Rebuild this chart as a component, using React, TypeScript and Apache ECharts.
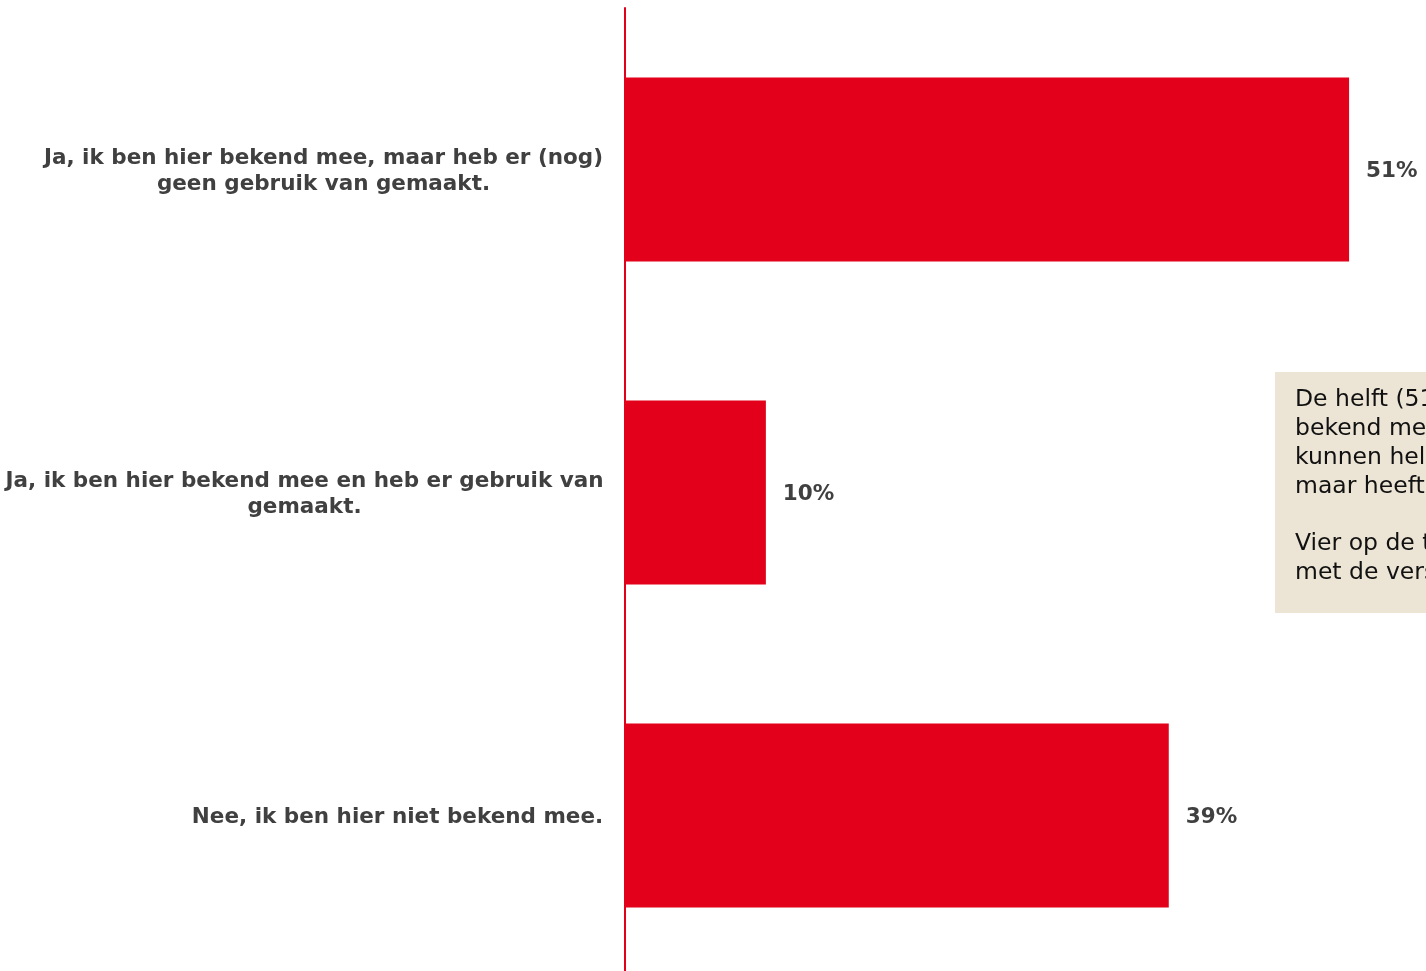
import React, { useEffect, useRef } from "react";
import * as echarts from "echarts";

const categories: string[] = [
  "Ja, ik ben hier bekend mee, maar heb er (nog)\ngeen gebruik van gemaakt.",
  "Ja, ik ben hier bekend mee en heb er gebruik van\ngemaakt.",
  "Nee, ik ben hier niet bekend mee.",
];
const values: number[] = [51.4, 10.0, 38.6];
const noteLines: string[] = [
  "De helft (51%) is hier",
  "bekend mee en weet dat zij",
  "kunnen helpen bij vragen,",
  "maar heeft er (nog) geen gebruik van gemaakt.",
  "",
  "Vier op de tien is niet bekend",
  "met de verschillende mogelijkheden.",
];

const RED = "#E2001A";
const TEXT = "#404040";
const FONT = "DejaVu Sans";
const LABEL_SIZE = 21.5;

export default function App() {
  const ref = useRef<HTMLDivElement>(null);
  useEffect(() => {
    if (!ref.current) return;
    const canvas = document.createElement("canvas");
    const ctx = canvas.getContext("2d")!;
    ctx.font = `bold ${LABEL_SIZE}px "${FONT}"`;
    const rich: Record<string, any> = {};
    categories.forEach((c, i) => {
      const w = Math.max(...c.split("\n").map((l) => ctx.measureText(l).width));
      rich["c" + i] = {
        width: Math.ceil(w) + 1,
        align: "center",
        fontFamily: FONT,
        fontWeight: "bold",
        fontSize: LABEL_SIZE,
        color: TEXT,
        lineHeight: 26,
      };
    });
    const chart = echarts.init(ref.current, null, { renderer: "svg" });
    chart.setOption({
      animation: false,
      grid: { left: 625, top: 8, bottom: 0, right: 0 },
      xAxis: {
        type: "value",
        min: 0,
        max: 56.86,
        show: false,
        splitLine: { show: false },
      },
      yAxis: {
        type: "category",
        data: categories,
        inverse: true,
        axisLine: { show: true, lineStyle: { color: RED, width: 2 } },
        axisTick: { show: false },
        axisLabel: {
          margin: 21,
          formatter: (v: string) => {
            const i = categories.indexOf(v);
            return v
              .split("\n")
              .map((l) => `{c${i}|${l}}`)
              .join("\n");
          },
          rich,
        },
      },
      series: [
        {
          type: "bar",
          data: values,
          barCategoryGap: "43%",
          itemStyle: { color: RED },
          label: {
            show: true,
            position: "right",
            distance: 17,
            formatter: (p: any) => Math.round(p.value) + "%",
            fontFamily: FONT,
            fontWeight: "bold",
            fontSize: LABEL_SIZE,
            color: TEXT,
          },
        },
      ],
      graphic: [
        {
          type: "rect",
          shape: { x: 1275, y: 372, width: 420, height: 241 },
          style: { fill: "#ECE4D4" },
          z: 10,
        },
        {
          type: "text",
          x: 1295,
          y: 384,
          z: 11,
          style: {
            text: noteLines.join("\n"),
            fontFamily: FONT,
            fontSize: 23.5,
            lineHeight: 28.8,
            fill: "#111111",
          },
        },
      ],
    });
    return () => chart.dispose();
  }, []);
  return (
    <div
      ref={ref}
      style={{ position: "fixed", left: 0, top: 0, width: 1426, height: 977 }}
    />
  );
}
